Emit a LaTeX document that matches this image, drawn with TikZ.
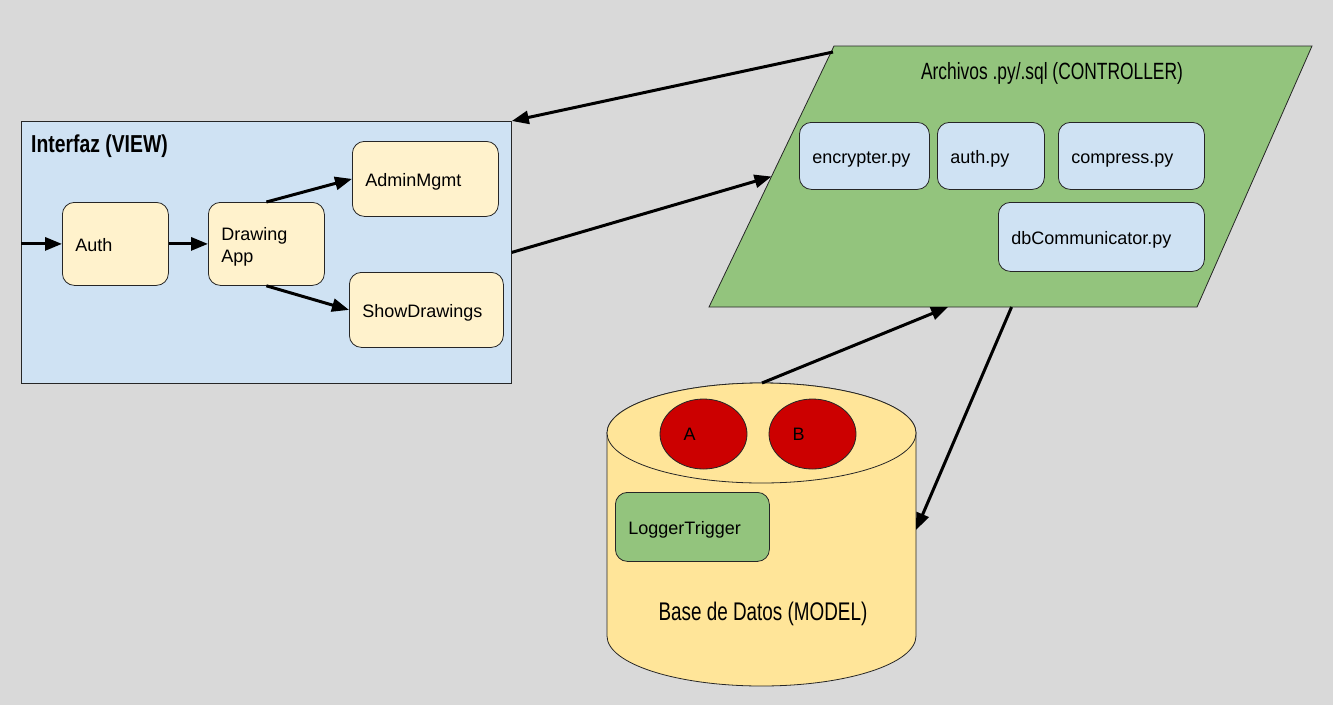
\documentclass[tikz,border=0pt]{standalone}
\usepackage{fontspec}
\setmainfont{Liberation Sans}
\newfontfamily\titlefont[FakeStretch=0.74]{Liberation Sans}
\newfontfamily\headfont[FakeStretch=0.79]{Liberation Sans}
\usetikzlibrary{arrows.meta,calc,shapes.geometric}
\definecolor{bggray}{HTML}{D9D9D9}
\definecolor{viewblue}{HTML}{CFE2F3}
\definecolor{boxyellow}{HTML}{FFF2CC}
\definecolor{ctlgreen}{HTML}{93C47D}
\definecolor{dbyellow}{HTML}{FFE599}
\definecolor{tablered}{HTML}{CC0000}
\tikzset{
  box/.style={draw=black!85, line width=0.8pt, rounded corners=12pt, anchor=north west,
    inner xsep=13pt, inner ysep=0pt, align=left, text height=16pt, text depth=0pt,
    font=\fontsize{18}{22}\selectfont},
  tbl/.style={ellipse, draw=black!85, line width=0.8pt, fill=tablered, minimum width=87pt,
    minimum height=70pt, inner sep=0pt, text width=40pt, align=left, font=\fontsize{18}{22}\selectfont},
  flow/.style={line width=3pt, -{Triangle[length=17pt,width=13pt]}},
}
\begin{document}
\begin{tikzpicture}[x=1pt, y=-1pt]
\fill[bggray] (0,0) rectangle (1333,705);
\useasboundingbox (0,0) rectangle (1333,705);
% vista
\node[draw=black!85, line width=0.8pt, fill=viewblue, anchor=north west, minimum width=490pt,
  minimum height=262pt, inner sep=0pt] (view) at (21,121) {};
\node[anchor=base west, inner sep=0pt, font=\headfont\bfseries\fontsize{24.5}{28}\selectfont]
  (viewtitle) at (31,152) {Interfaz (VIEW)};
\node[box, fill=boxyellow, minimum height=83pt, text width=80pt] (auth) at (62,202) {Auth};
\node[box, fill=boxyellow, minimum height=83pt, text width=90pt, text height=, text depth=]
  (drawing) at (208,202) {\rule{0pt}{19pt}Drawing\\App};
\node[box, fill=boxyellow, minimum height=75pt, text width=120pt] (admin) at (352,141) {AdminMgmt};
\node[box, fill=boxyellow, minimum height=75pt, text width=128pt] (show) at (349,272) {ShowDrawings};
%
% controlador
\coordinate (ctltl) at (834,46);
\coordinate (ctltr) at (1312,46);
\coordinate (ctlbr) at (1197,307);
\coordinate (ctlbl) at (709,307);
\filldraw[fill=ctlgreen, draw=black!85, line width=0.8pt] (ctltl) -- (ctltr) -- (ctlbr) -- (ctlbl) -- cycle;
\node[anchor=base, inner sep=0pt, font=\titlefont\fontsize{23.5}{28}\selectfont]
  (ctltitle) at (1052,79) {Archivos .py/.sql (CONTROLLER)};
\node[box, fill=viewblue, minimum height=67pt, text width=104pt] (encrypter) at (799,122) {encrypter.py};
\node[box, fill=viewblue, minimum height=67pt, text width=81pt] (authpy) at (937,122) {auth.py};
\node[box, fill=viewblue, minimum height=67pt, text width=120pt] (compress) at (1058,122) {compress.py};
\node[box, fill=viewblue, minimum height=69pt, text width=180pt] (dbcomm) at (998,202) {dbCommunicator.py};
%
% base de datos
\filldraw[fill=dbyellow, draw=black!85, line width=0.8pt] (607,433) -- (607,636)
  arc[start angle=180, end angle=0, x radius=154.5, y radius=50] -- (916,433)
  arc[start angle=360, end angle=180, x radius=154.5, y radius=50] -- cycle;
\filldraw[fill=dbyellow, draw=black!85, line width=0.8pt] (761.5,433) ellipse[x radius=154.5, y radius=50];
\node[tbl] (tabA) at (703.5,434) {A};
\node[tbl] (tabB) at (812.5,434) {B};
\node[box, fill=ctlgreen, minimum height=69pt, text width=128pt] (logger) at (615,492) {LoggerTrigger};
\node[anchor=base, inner sep=0pt, font=\titlefont\fontsize{25.5}{30}\selectfont]
  (dbtitle) at (763,620) {Base de Datos (MODEL)};
\coordinate (dbtop) at (762,383);
\coordinate (dbright) at (916,530);
%
% flechas
\coordinate (ctlout) at (833,52);
\coordinate (ctlin) at ($(ctltl)!0.5!(ctlbl)$);
\coordinate (ctlbotin) at ($(ctlbl)!0.49!(ctlbr)$);
\coordinate (ctlbotout) at ($(ctlbl)!0.62!(ctlbr)$);
\draw[flow] (view.west |- auth.west) -- (auth.west);
\draw[flow] (auth.east) -- (drawing.west);
\draw[flow] (drawing.north) -- (admin.west);
\draw[flow] (drawing.south) -- (show.west);
\draw[flow] (ctlout) -- (view.north east);
\draw[flow] (view.east) -- (ctlin);
\draw[flow] (dbtop) -- (ctlbotin);
\draw[flow] (ctlbotout) -- (dbright);
\end{tikzpicture}
\end{document}
